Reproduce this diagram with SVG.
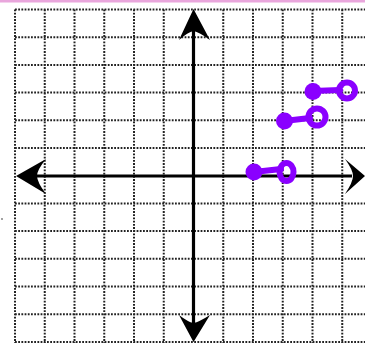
<svg xmlns="http://www.w3.org/2000/svg" width="365" height="343" viewBox="0 0 365 343">
<style>
.g{stroke:#222;stroke-width:2;stroke-dasharray:1.8 1.4;fill:none}
.ax{stroke:#000;stroke-width:3.2;fill:none}
.ah{fill:#000}
.p{stroke:#8a00ff;stroke-width:6;fill:none;stroke-linecap:round}
.pf{fill:#8a00ff}
</style>
<rect x="0" y="0" width="365" height="343" fill="#fff"/>
<rect x="0" y="0" width="365" height="2.5" fill="#e9a6dc"/>
<circle cx="2" cy="219" r="0.9" fill="#777"/>
<g id="grid" class="g">
<path d="M15,9.5V343M44.75,9.5V343M74.5,9.5V343M104.25,9.5V343M134,9.5V343M163.75,9.5V343M223.25,9.5V343M253,9.5V343M282.75,9.5V343M312.5,9.5V343M342.25,9.5V343"/>
<path d="M15,9.5H365M15,37.2H365M15,64.9H365M15,92.6H365M15,120.3H365M15,148H365M15,203.4H365M15,231.1H365M15,258.8H365M15,286.5H365M15,314.2H365M15,341.9H365"/>
</g>
<g id="axes">
<path class="ax" d="M30,176H352M193.5,24V328"/>
<path class="ah" d="M16,176L46,159Q37,170 37,176Q37,182 46,194Z"/>
<path class="ah" d="M365,176L345,159Q353,170 353,176Q353,182 345,194Z"/>
<path class="ah" d="M193.5,9L179,40Q188,32 193.5,31Q199,32 210,40Z"/>
<path class="ah" d="M193.5,342L179,315Q188,322 193.5,323Q199,322 210,315Z"/>
</g>
<g id="step1">
<path class="p" d="M254,172L281,169"/>
<circle class="pf" cx="254" cy="172" r="8.5"/>
<ellipse class="p" cx="286.5" cy="172" rx="7" ry="9"/>
</g>
<g id="step2">
<path class="p" d="M284,121L310,118"/>
<circle class="pf" cx="284.5" cy="121" r="8.5"/>
<circle class="p" cx="317" cy="117" r="8.5"/>
</g>
<g id="step3">
<path class="p" d="M313,91L340,90"/>
<circle class="pf" cx="313" cy="91.5" r="8.5"/>
<circle class="p" cx="347" cy="90.5" r="8"/>
</g>
</svg>
